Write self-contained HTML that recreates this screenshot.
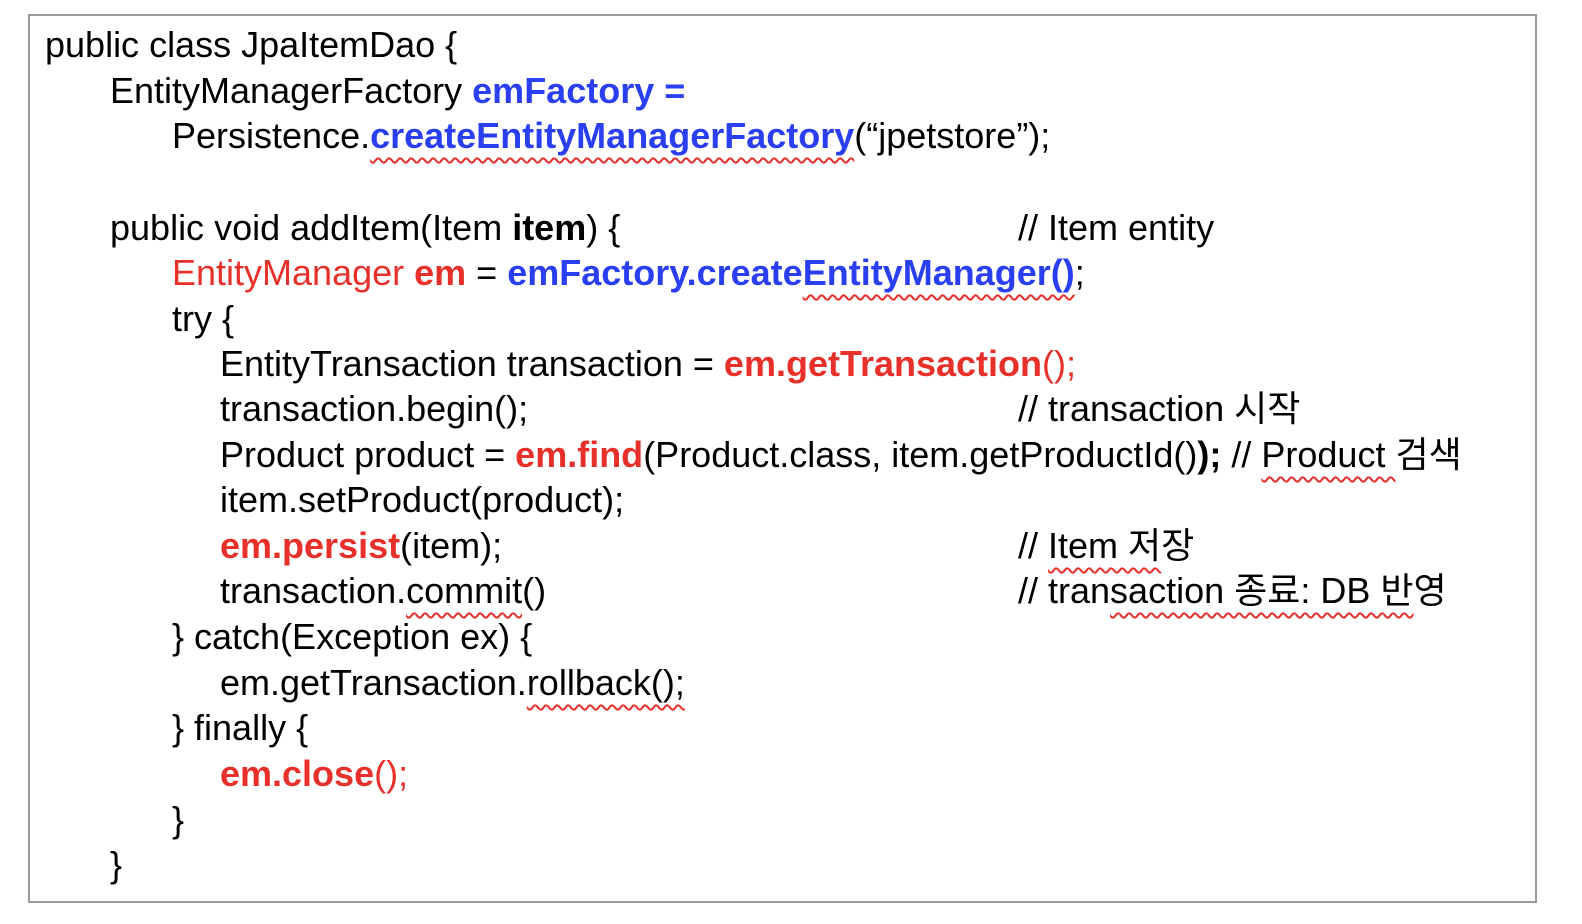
<!DOCTYPE html>
<html><head><meta charset="utf-8"><style>
html,body{margin:0;padding:0;background:#fff;}
body{width:1582px;height:924px;position:relative;overflow:hidden;font-family:"Liberation Sans","Noto Sans CJK KR",sans-serif;font-size:36px;color:#000;}
.box{position:absolute;left:28px;top:14px;width:1509px;height:889px;border:2px solid #9a9a9a;box-sizing:border-box;}
.l{position:absolute;height:40px;line-height:40px;white-space:pre;letter-spacing:0px;}
.b{color:#2a3ff2;}
.r{color:#e8302a;}
.B{font-weight:bold;}
.w{text-decoration:underline wavy #e8302a;text-decoration-thickness:1.5px;text-underline-offset:9px;}
</style></head><body>
<div class="box"></div>
<div class="l" style="left:45px;top:25px">public class JpaItemDao {</div>
<div class="l" style="left:110px;top:71px">EntityManagerFactory <span class="b B">emFactory =</span></div>
<div class="l" style="left:172px;top:116px">Persistence.<span class="b B w">createEntityManagerFactory</span>(“jpetstore”);</div>
<div class="l" style="left:110px;top:208px">public void addItem(Item <span class="B">item</span>) {</div>
<div class="l" style="left:1018px;top:208px">// Item entity</div>
<div class="l" style="left:172px;top:253px"><span class="r">EntityManager</span> <span class="r B">em</span> = <span class="b B">emFactory.create<span class="w">EntityManager()</span></span>;</div>
<div class="l" style="left:172px;top:299px">try {</div>
<div class="l" style="left:220px;top:344px">EntityTransaction transaction = <span class="r B">em.getTransaction</span><span class="r">();</span></div>
<div class="l" style="left:220px;top:389px">transaction.begin();</div>
<div class="l" style="left:1018px;top:389px">// transaction 시작</div>
<div class="l" style="left:220px;top:435px">Product product = <span class="r B">em.find</span>(Product.class, item.getProductId()<span class="B">);</span> // <span class="w">Product </span>검색</div>
<div class="l" style="left:220px;top:480px">item.setProduct(product);</div>
<div class="l" style="left:220px;top:526px"><span class="r B">em.persist</span>(item);</div>
<div class="l" style="left:1018px;top:526px">// <span class="w">Item 저</span>장</div>
<div class="l" style="left:220px;top:571px">transaction.<span class="w">commit</span>()</div>
<div class="l" style="left:1018px;top:571px">// tran<span class="w">saction 종료: DB 반</span>영</div>
<div class="l" style="left:172px;top:617px">} catch(Exception ex) {</div>
<div class="l" style="left:220px;top:663px">em.getTransaction.<span class="w">rollback();</span></div>
<div class="l" style="left:172px;top:708px">} finally {</div>
<div class="l" style="left:220px;top:754px"><span class="r B">em.close</span><span class="r">();</span></div>
<div class="l" style="left:172px;top:800px">}</div>
<div class="l" style="left:110px;top:845px">}</div>
</body></html>
